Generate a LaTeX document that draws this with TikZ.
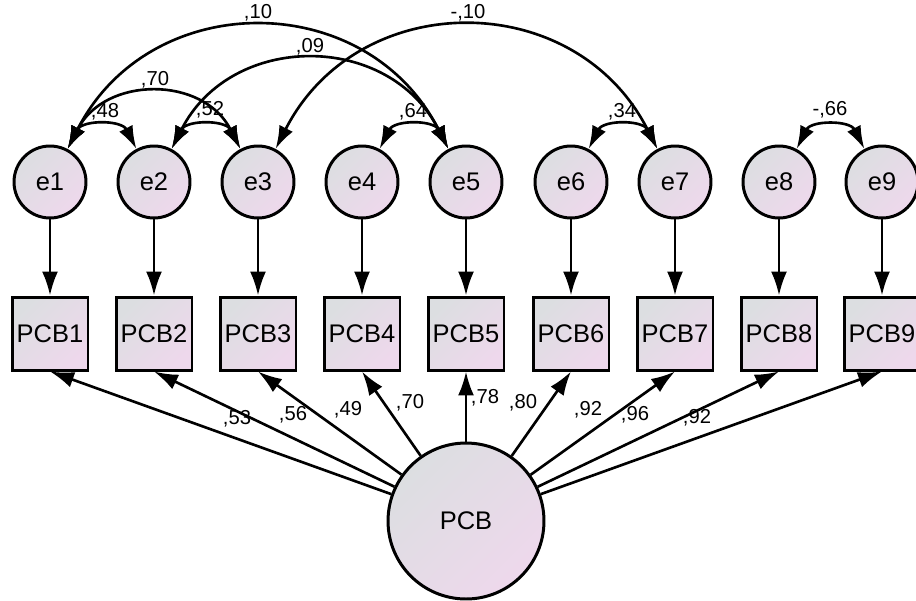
\documentclass[tikz,border=0pt]{standalone}
\usepackage{fontspec}
\setmainfont{Liberation Sans}
\usetikzlibrary{arrows.meta}

\definecolor{shadeGrey}{RGB}{220,222,225}
\definecolor{shadePink}{RGB}{238,216,236}

\tikzset{
  varfill/.style={top color=shadeGrey, bottom color=shadePink, shading angle=45},
  nodefont/.style={font=\fontsize{14.5}{17}\selectfont},
  errnode/.style={circle, draw, line width=1.7pt, minimum size=1.44cm, inner sep=0pt, varfill, nodefont},
  obsnode/.style={rectangle, draw, line width=1.7pt, minimum width=1.52cm, minimum height=1.46cm, inner sep=0pt, varfill, nodefont},
  latnode/.style={circle, draw, line width=1.7pt, minimum size=3.12cm, inner sep=0pt, varfill, nodefont},
  regarrow/.style={-{Latex[length=0.48cm,width=0.32cm]}, line width=1.5pt},
  covarrow/.style={{Latex[length=0.46cm,width=0.3cm]}-{Latex[length=0.46cm,width=0.3cm]},
    line width=1.5pt, out=63, in=117, looseness=1.22},
  estlabel/.style={font=\fontsize{11.5}{13}\selectfont, inner sep=0pt}
}

\begin{document}
\begin{tikzpicture}[x=0.02cm, y=0.02cm]
  \useasboundingbox (0,0) rectangle (916,-600);

  % error terms, indicators and their paths
  \foreach \i/\xx in {1/50,2/154,3/258,4/362,5/466,6/571,7/675,8/779,9/882} {
    \node[errnode] (e\i) at (\xx,-182) {e\i};
    \node[obsnode] (PCB\i) at (\xx,-333.5) {PCB\i};
    \draw[regarrow] (e\i) -- (PCB\i);
  }

  % latent factor and loadings
  \node[latnode] (PCB) at (466,-521) {PCB};
  \foreach \i in {1,...,9} {
    \draw[regarrow] (PCB) -- (PCB\i.south);
  }

  % error covariances
  \draw[covarrow] (e1.62) to (e2.118);
  \draw[covarrow] (e2.62) to (e3.118);
  \draw[covarrow] (e4.62) to (e5.118);
  \draw[covarrow] (e6.62) to (e7.118);
  \draw[covarrow] (e8.62) to (e9.118);
  \draw[covarrow] (e1.62) to (e3.118);
  \draw[covarrow] (e1.62) to (e5.118);
  \draw[covarrow] (e2.62) to (e5.118);
  \draw[covarrow] (e3.62) to (e7.118);

  % covariance estimates
  \node[estlabel] (c15) at (258,-13) {,10};
  \node[estlabel] (c37) at (468,-13) {-,10};
  \node[estlabel] (c25) at (310,-47) {,09};
  \node[estlabel] (c13) at (155,-80) {,70};
  \node[estlabel] (c12) at (105,-112) {,48};
  \node[estlabel] (c23) at (210,-110) {,52};
  \node[estlabel] (c45) at (413,-112) {,64};
  \node[estlabel] (c67) at (622,-112) {,34};
  \node[estlabel] (c89) at (830,-110) {-,66};

  % loading estimates
  \node[estlabel] (l1) at (237,-419) {,53};
  \node[estlabel] (l2) at (293,-415) {,56};
  \node[estlabel] (l3) at (348,-410) {,49};
  \node[estlabel] (l4) at (410,-403) {,70};
  \node[estlabel] (l5) at (485,-398) {,78};
  \node[estlabel] (l6) at (523,-403) {,80};
  \node[estlabel] (l7) at (588,-410) {,92};
  \node[estlabel] (l8) at (635,-415) {,96};
  \node[estlabel] (l9) at (697,-418) {,92};
\end{tikzpicture}
\end{document}
